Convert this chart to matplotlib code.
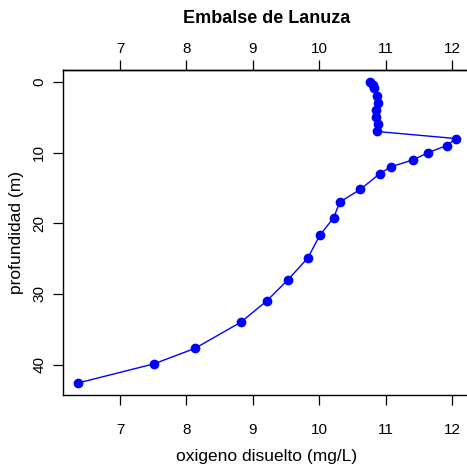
import matplotlib
matplotlib.use("Agg")
import matplotlib.pyplot as plt

plt.rcParams['font.family'] = ['Liberation Sans', 'DejaVu Sans']

# Data
depth = [0.0, 0.4, 0.8, 2.0, 3.0, 4.0, 5.0, 6.0, 7.0, 8.0, 9.0, 10.0, 11.0, 12.0,
         13.0, 15.2, 17.0, 19.2, 21.7, 24.9, 28.0, 31.0, 34.0, 37.7, 39.9, 42.6]
oxygen = [10.76, 10.81, 10.82, 10.87, 10.88, 10.86, 10.85, 10.88, 10.87, 12.06, 11.92, 11.64,
          11.42, 11.08, 10.91, 10.62, 10.31, 10.22, 10.01, 9.83, 9.53, 9.21, 8.82, 8.13,
          7.51, 6.37]
x_ticks = [7, 8, 9, 10, 11, 12]
y_ticks = [0, 10, 20, 30, 40]

W, H = 467, 469
fig = plt.figure(figsize=(W / 100, H / 100), dpi=100)
ax = fig.add_axes([63 / W, (H - 395) / H, (471 - 63) / W, (395 - 70) / H])

ax.plot(oxygen, depth, color='#0000ff', lw=1.0, marker='o', ms=6,
        markerfacecolor='#0000ff', markeredgecolor='#0000ff', clip_on=False)

xr = max(oxygen) - min(oxygen)
yr = max(depth) - min(depth)
ax.set_xlim(min(oxygen) - 0.04 * xr, max(oxygen) + 0.04 * xr)
ax.set_ylim(max(depth) + 0.04 * yr, min(depth) - 0.04 * yr)

ax.set_xticks(x_ticks)
ax.set_yticks(y_ticks)
ax.tick_params(axis='x', top=False, labeltop=False, bottom=True, labelbottom=True,
               length=7, width=0.9, pad=13.5, labelsize=11, direction='out')
ax.tick_params(axis='y', length=7, width=0.9, pad=5, labelsize=11, direction='out')
for lab in ax.get_yticklabels():
    lab.set_rotation(90)
    lab.set_va('center')

top = ax.secondary_xaxis('top')
top.set_xticks(x_ticks)
top.tick_params(axis='x', length=7, width=0.9, pad=3, labelsize=11, direction='out')
top.spines['top'].set_linewidth(1.0)

for sp in ax.spines.values():
    sp.set_linewidth(1.0)

ax.set_xlabel('oxigeno disuelto (mg/L)', fontsize=12.5, labelpad=8)
ax.set_ylabel('profundidad (m)', fontsize=12.5, labelpad=6)
fig.text((63 + 471) / 2 / W, 1 - 18.5 / H, 'Embalse de Lanuza', ha='center', va='center',
         fontsize=13, fontweight='bold')

fig.savefig('out.png', dpi=100)
